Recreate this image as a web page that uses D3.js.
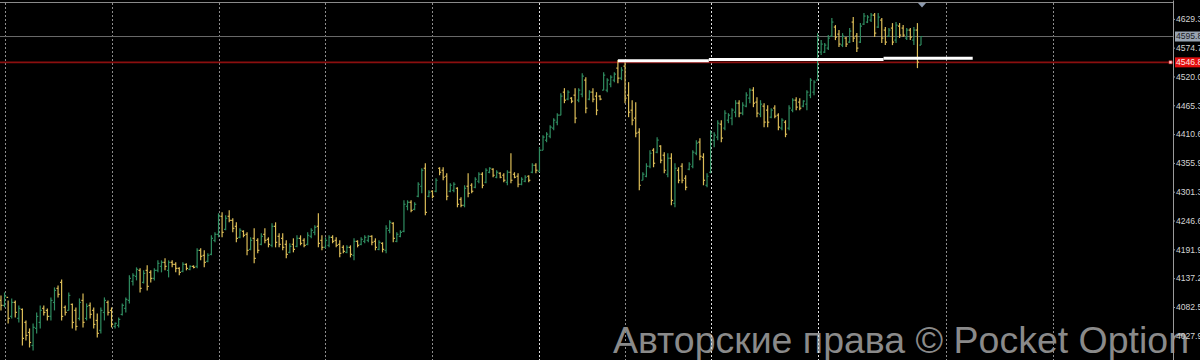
<!DOCTYPE html>
<html lang="ru">
<head>
<meta charset="utf-8">
<title>Price chart</title>
<script src="https://cdn.jsdelivr.net/npm/d3@7/dist/d3.min.js"></script>
<style>
  * { margin: 0; padding: 0; box-sizing: border-box; }
  body { background: #000; overflow: hidden; }
  svg { display: block; }
</style>
</head>
<body>
<svg id="chart"></svg>
<script>
const barOpen = [
  4095, 4085.5, 4100.7, 4064.6, 4091.2, 4060.8, 4077.9, 4053.2, 4034.2, 4009.5,
  4041.8, 4053.2, 4079.8, 4076, 4064.6, 4091.2, 4117.8, 4129.2, 4081.7, 4076,
  4087.4, 4076, 4060.8, 4095, 4060.8, 4085.5, 4076, 4057, 4038, 4072.2,
  4091.2, 4076, 4045.6, 4047.5, 4068.4, 4079.8, 4095, 4131.1, 4140.6, 4152,
  4129.2, 4152, 4148.2, 4136.8, 4152, 4159.6, 4167.2, 4152, 4167.2, 4163.4,
  4155.8, 4150.1, 4163.4, 4153.9, 4159.6, 4159.6, 4190, 4180.5, 4169.1, 4182.4,
  4209, 4220.4, 4254.6, 4229.9, 4254.6, 4247, 4235.6, 4214.7, 4226.1, 4220.4,
  4191.9, 4212.8, 4209, 4201.4, 4220.4, 4210.9, 4199.5, 4235.6, 4216.6, 4212.8,
  4201.4, 4186.2, 4201.4, 4197.6, 4212.8, 4209, 4201.4, 4216.6, 4224.2, 4235.6,
  4209, 4195.7, 4199.5, 4214.7, 4209, 4201.4, 4195.7, 4186.2, 4195.7, 4180.5,
  4207.1, 4201.4, 4207.1, 4209, 4216.6, 4207.1, 4191.9, 4203.3, 4190, 4228,
  4241.3, 4207.1, 4216.6, 4226.1, 4273.6, 4281.2, 4267.9, 4292.6, 4311.6, 4345.8,
  4292.6, 4302.1, 4302.1, 4345.8, 4342, 4330.6, 4302.1, 4304, 4307.8, 4286.9,
  4275.5, 4311.6, 4313.5, 4309.7, 4321.1, 4334.4, 4319.2, 4338.2, 4343.9, 4328.7,
  4336.3, 4332.5, 4319.2, 4338.2, 4334.4, 4330.6, 4315.4, 4321.1, 4330.6, 4338.2,
  4351.5, 4340.1, 4380, 4399, 4406.6, 4421.8, 4433.2, 4446.5, 4490.2, 4476.9,
  4478.8, 4484.5, 4475, 4486.4, 4513, 4476.9, 4490.2, 4482.6, 4482.6, 4494,
  4494, 4505.4, 4513, 4535.8, 4516.8, 4539.6, 4484.5, 4456, 4440.8, 4414.2,
  4323, 4330.6, 4349.6, 4380, 4376.2, 4387.6, 4370.5, 4334.4, 4364.8, 4279.3,
  4342, 4349.6, 4326.8, 4343.9, 4349.6, 4374.3, 4395.2, 4366.7, 4313.5, 4338.2,
  4399, 4404.7, 4429.4, 4421.8, 4437, 4440.8, 4452.2, 4469.3, 4450.3, 4463.6,
  4478.8, 4494, 4471.2, 4448.4, 4463.6, 4456, 4442.7, 4459.8, 4446.5, 4421.8,
  4433.2, 4421.8, 4456, 4475, 4471.2, 4463.6, 4467.4, 4484.5, 4490.2, 4513,
  4566.2, 4566.2, 4573.8, 4596.6, 4613.7, 4600.4, 4579.5, 4592.8, 4585.2, 4623.2,
  4596.6, 4585.2, 4619.4, 4623.2, 4627, 4636.5, 4613.7, 4627, 4608, 4596.6,
  4611.8, 4589, 4615.6, 4611.8, 4592.8, 4608, 4589, 4608, 4579.5
]
const barHigh = [
  4104.5, 4110.2, 4095, 4098.8, 4095, 4085.5, 4079.8, 4057, 4041.8, 4051.3,
  4072.2, 4085.5, 4085.5, 4079.8, 4100.7, 4119.7, 4123.5, 4134.9, 4085.5, 4110.2,
  4089.3, 4081.7, 4098.8, 4108.3, 4089.3, 4091.2, 4081.7, 4070.3, 4081.7, 4100.7,
  4095, 4081.7, 4053.2, 4062.7, 4089.3, 4100.7, 4142.5, 4146.3, 4157.7, 4155.8,
  4152, 4161.5, 4152, 4155.8, 4171, 4171, 4174.8, 4171, 4171, 4167.2,
  4157.7, 4167.2, 4165.3, 4161.5, 4161.5, 4193.8, 4193.8, 4190, 4184.3, 4218.5,
  4224.2, 4260.3, 4262.2, 4256.5, 4266, 4250.8, 4243.2, 4231.8, 4228, 4224.2,
  4214.7, 4231.8, 4212.8, 4222.3, 4231.8, 4214.7, 4241.3, 4243.2, 4222.3, 4222.3,
  4209, 4203.3, 4212.8, 4218.5, 4218.5, 4212.8, 4224.2, 4231.8, 4237.5, 4260.3,
  4218.5, 4214.7, 4218.5, 4218.5, 4214.7, 4209, 4199.5, 4199.5, 4199.5, 4212.8,
  4209, 4214.7, 4218.5, 4218.5, 4218.5, 4212.8, 4209, 4205.2, 4237.5, 4247,
  4243.2, 4224.2, 4228, 4285, 4285, 4285, 4281.2, 4319.2, 4345.8, 4355.3,
  4304, 4304, 4326.8, 4347.7, 4347.7, 4336.3, 4317.3, 4319.2, 4309.7, 4290.7,
  4313.5, 4336.3, 4317.3, 4328.7, 4338.2, 4338.2, 4345.8, 4347.7, 4345.8, 4342,
  4338.2, 4336.3, 4342, 4374.3, 4338.2, 4336.3, 4328.7, 4332.5, 4332.5, 4355.3,
  4355.3, 4385.7, 4408.5, 4414.2, 4427.5, 4440.8, 4450.3, 4488.3, 4497.8, 4494,
  4480.7, 4497.8, 4497.8, 4526.3, 4518.7, 4494, 4497.8, 4490.2, 4484.5, 4528.2,
  4516.8, 4522.5, 4528.2, 4551, 4537.7, 4547.2, 4509.2, 4475, 4471.2, 4421.8,
  4338.2, 4355.3, 4380, 4383.8, 4404.7, 4389.5, 4376.2, 4374.3, 4374.3, 4355.3,
  4347.7, 4355.3, 4332.5, 4357.2, 4380, 4399, 4402.8, 4374.3, 4336.3, 4418,
  4414.2, 4437, 4437, 4456, 4450.3, 4459.8, 4475, 4475, 4471.2, 4490.2,
  4497.8, 4499.7, 4480.7, 4475, 4469.3, 4465.5, 4459.8, 4465.5, 4450.3, 4440.8,
  4437, 4465.5, 4478.8, 4480.7, 4478.8, 4475, 4494, 4516.8, 4513, 4602.3,
  4589, 4583.3, 4598.5, 4630.8, 4617.5, 4608, 4602.3, 4594.7, 4611.8, 4632.7,
  4602.3, 4621.3, 4640.3, 4636.5, 4640.3, 4640.3, 4640.3, 4630.8, 4613.7, 4611.8,
  4621.3, 4623.2, 4621.3, 4617.5, 4611.8, 4611.8, 4613.7, 4621.3, 4596
]
const barLow = [
  4076, 4081.7, 4051.3, 4060.8, 4062.7, 4053.2, 4009.5, 4019, 4005.7, 4000,
  4032.3, 4041.8, 4066.5, 4057, 4057, 4076, 4100.7, 4057, 4066.5, 4076,
  4041.8, 4038, 4057, 4043.7, 4057, 4060.8, 4041.8, 4024.7, 4032.3, 4057,
  4066.5, 4043.7, 4041.8, 4043.7, 4066.5, 4072.2, 4089.3, 4123.5, 4133, 4110.2,
  4127.3, 4114, 4129.2, 4133, 4148.2, 4148.2, 4152, 4138.7, 4157.7, 4148.2,
  4142.5, 4148.2, 4152, 4152, 4155.8, 4155.8, 4171, 4157.7, 4167.2, 4180.5,
  4205.2, 4214.7, 4214.7, 4228, 4243.2, 4224.2, 4205.2, 4212.8, 4214.7, 4180.5,
  4190, 4165.3, 4184.3, 4199.5, 4203.3, 4195.7, 4195.7, 4195.7, 4195.7, 4190,
  4174.8, 4184.3, 4186.2, 4195.7, 4199.5, 4195.7, 4199.5, 4212.8, 4218.5, 4195.7,
  4190, 4193.8, 4195.7, 4203.3, 4195.7, 4176.7, 4184.3, 4184.3, 4176.7, 4171,
  4195.7, 4199.5, 4203.3, 4205.2, 4199.5, 4190, 4190, 4186.2, 4184.3, 4222.3,
  4205.2, 4205.2, 4214.7, 4224.2, 4266, 4262.2, 4266, 4290.7, 4298.3, 4256.5,
  4290.7, 4288.8, 4300.2, 4332.5, 4323, 4285, 4300.2, 4300.2, 4271.7, 4271.7,
  4271.7, 4290.7, 4298.3, 4307.8, 4317.3, 4307.8, 4317.3, 4336.3, 4328.7, 4326.8,
  4326.8, 4319.2, 4313.5, 4317.3, 4326.8, 4309.7, 4313.5, 4319.2, 4319.2, 4336.3,
  4336.3, 4338.2, 4380, 4395.2, 4402.8, 4418, 4427.5, 4446.5, 4469.3, 4475,
  4469.3, 4431.3, 4471.2, 4480.7, 4450.3, 4475, 4471.2, 4446.5, 4475, 4494,
  4490.2, 4499.7, 4509.2, 4507.3, 4513, 4469.3, 4442.7, 4427.5, 4404.7, 4304,
  4323, 4328.7, 4345.8, 4347.7, 4374.3, 4355.3, 4336.3, 4328.7, 4275.5, 4271.7,
  4317.3, 4317.3, 4304, 4342, 4345.8, 4370.5, 4361, 4313.5, 4309.7, 4336.3,
  4385.7, 4399, 4395.2, 4418, 4431.3, 4427.5, 4442.7, 4442.7, 4446.5, 4461.7,
  4469.3, 4461.7, 4442.7, 4442.7, 4423.7, 4423.7, 4440.8, 4440.8, 4418, 4418,
  4404.7, 4418, 4452.2, 4456, 4456, 4461.7, 4456, 4478.8, 4484.5, 4513,
  4560.5, 4564.3, 4570, 4594.7, 4589, 4575.7, 4575.7, 4575.7, 4583.3, 4585.2,
  4566.2, 4583.3, 4617.5, 4621.3, 4623.2, 4594.7, 4611.8, 4583.3, 4579.5, 4594.7,
  4579.5, 4583.3, 4592.8, 4594.7, 4589, 4589, 4579.5, 4535.8, 4579.5
]
const barClose = [
  4085.5, 4102.6, 4060.8, 4091.2, 4072.2, 4079.8, 4022.8, 4028.5, 4015.2, 4043.7,
  4064.6, 4076, 4072.2, 4064.6, 4095, 4114, 4106.4, 4064.6, 4072.2, 4104.5,
  4053.2, 4045.6, 4091.2, 4053.2, 4083.6, 4068.4, 4049.4, 4032.3, 4076, 4095,
  4072.2, 4049.4, 4051.3, 4058.9, 4085.5, 4096.9, 4136.8, 4142.5, 4153.9, 4117.8,
  4146.3, 4121.6, 4136.8, 4152, 4165.3, 4167.2, 4159.6, 4167.2, 4163.4, 4155.8,
  4148.2, 4163.4, 4155.8, 4159.6, 4157.7, 4190, 4178.6, 4167.2, 4180.5, 4212.8,
  4220.4, 4254.6, 4224.2, 4250.8, 4247, 4231.8, 4212.8, 4228, 4218.5, 4190,
  4209, 4174.8, 4190, 4216.6, 4209, 4201.4, 4235.6, 4205.2, 4201.4, 4195.7,
  4182.4, 4197.6, 4191.9, 4212.8, 4203.3, 4199.5, 4218.5, 4228, 4233.7, 4203.3,
  4195.7, 4209, 4214.7, 4207.1, 4199.5, 4184.3, 4188.1, 4195.7, 4182.4, 4207.1,
  4199.5, 4210.9, 4214.7, 4216.6, 4205.2, 4195.7, 4205.2, 4191.9, 4231.8, 4243.2,
  4212.8, 4220.4, 4224.2, 4277.4, 4281.2, 4266, 4277.4, 4315.4, 4342, 4262.2,
  4300.2, 4292.6, 4323, 4338.2, 4328.7, 4292.6, 4313.5, 4315.4, 4277.4, 4275.5,
  4307.8, 4298.3, 4302.1, 4324.9, 4334.4, 4313.5, 4342, 4345.8, 4332.5, 4338.2,
  4328.7, 4323, 4338.2, 4323, 4328.7, 4315.4, 4324.9, 4328.7, 4323, 4351.5,
  4342, 4380, 4404.7, 4410.4, 4423.7, 4437, 4446.5, 4482.6, 4475, 4490.2,
  4473.1, 4440.8, 4494, 4520.6, 4459.8, 4490.2, 4476.9, 4456, 4476.9, 4522.5,
  4513, 4518.7, 4524.4, 4516.8, 4532, 4478.8, 4452.2, 4437, 4412.3, 4313.5,
  4334.4, 4349.6, 4374.3, 4355.3, 4399, 4361, 4342, 4364.8, 4285, 4345.8,
  4323, 4323, 4309.7, 4353.4, 4376.2, 4393.3, 4368.6, 4323, 4330.6, 4412.3,
  4408.5, 4431.3, 4402.8, 4450.3, 4446.5, 4456, 4469.3, 4450.3, 4465.5, 4484.5,
  4494, 4469.3, 4450.3, 4467.4, 4433.2, 4433.2, 4456, 4444.6, 4423.7, 4437,
  4410.4, 4459.8, 4475, 4461.7, 4459.8, 4473.1, 4490.2, 4513, 4509.2, 4592.8,
  4581.4, 4579.5, 4592.8, 4623.2, 4594.7, 4581.4, 4596.6, 4581.4, 4606.1, 4592.8,
  4573.8, 4615.6, 4634.6, 4632.7, 4636.5, 4602.3, 4632.7, 4592.8, 4585.2, 4608,
  4585.2, 4617.5, 4598.5, 4598.5, 4608, 4594.7, 4608, 4547.2, 4595.8
]

// right scale labels
const priceTicks = [4629.3, 4574.7, 4520.0, 4465.3, 4410.6, 4355.9, 4301.3, 4246.6, 4191.9, 4137.2, 4082.5, 4027.9]
// period separators, as bar numbers
const gridBars = [1, 31, 61, 91, 121, 151, 175, 199, 229, 265, 295]
// stepped white level: from bar, to bar, price
const levelFrom = [173, 198.5, 247.5]
const levelTo = [198.5, 247.5, 272.5]
const levelPrice = [4550.0, 4552.3, 4554.6]
const bidPrice = 4595.8
const alertPrice = 4546.8
const watermark = 'Авторские права © Pocket Option'

const W = 1200, H = 360
const AXIS_X = 1173
const UP = '#2f8c60', DOWN = '#dcbd58'
const FONT = '"Liberation Sans", Arial, sans-serif'
const brightGrid = new Set([151, 199, 229])

const svg = d3.select('#chart').attr('width', W).attr('height', H)
svg.append('rect').attr('width', W).attr('height', H).attr('fill', '#000')

const n = d3.min([barOpen.length, barHigh.length, barLow.length, barClose.length])
const bars = d3.range(n).map(i => ({ i, o: barOpen[i], h: barHigh[i], l: barLow[i], c: barClose[i] }))

const x = d3.scaleLinear().domain([0, 258]).range([1, 921])
const y = d3.scaleLinear().domain([3981.9, 4665.1]).range([H, 0])

// watermark sits under everything
svg.append('text')
  .attr('x', 613).attr('y', 353)
  .attr('font-family', FONT)
  .attr('font-size', 37.5)
  .attr('fill', '#8a8a8a')
  .attr('textLength', 576)
  .attr('lengthAdjust', 'spacingAndGlyphs')
  .text(watermark)

// vertical period separators
svg.append('g')
  .selectAll('line')
  .data(gridBars)
  .join('line')
  .attr('x1', d => Math.round(x(d)) + 0.5).attr('x2', d => Math.round(x(d)) + 0.5)
  .attr('y1', 3).attr('y2', H)
  .attr('stroke', d => brightGrid.has(d) ? '#e0e0e0' : '#8c8c8c')
  .attr('stroke-width', 1)
  .attr('stroke-dasharray', '2,2')

// top frame line, bid line, alert line
svg.append('line')
  .attr('x1', 0).attr('x2', AXIS_X).attr('y1', 2.5).attr('y2', 2.5)
  .attr('stroke', '#8a8a8a')
svg.append('line')
  .attr('x1', 0).attr('x2', AXIS_X).attr('y1', y(bidPrice)).attr('y2', y(bidPrice))
  .attr('stroke', '#6a6a6a')
svg.append('line')
  .attr('x1', 0).attr('x2', AXIS_X).attr('y1', y(alertPrice)).attr('y2', y(alertPrice))
  .attr('stroke', '#8b0f0f').attr('stroke-width', 1.6)

// bars
const bar = svg.append('g')
  .selectAll('g')
  .data(bars)
  .join('g')
  .attr('stroke', d => d.c >= d.o ? UP : DOWN)
  .attr('stroke-width', 1.2)

bar.append('line')
  .attr('x1', d => x(d.i)).attr('x2', d => x(d.i))
  .attr('y1', d => y(d.h)).attr('y2', d => y(d.l))
bar.append('line')
  .attr('x1', d => x(d.i) - 1.6).attr('x2', d => x(d.i))
  .attr('y1', d => y(d.o)).attr('y2', d => y(d.o))
bar.append('line')
  .attr('x1', d => x(d.i)).attr('x2', d => x(d.i) + 1.6)
  .attr('y1', d => y(d.c)).attr('y2', d => y(d.c))

// stepped white level line
const levels = levelFrom.map((f, k) => ({ f, t: levelTo[k], p: levelPrice[k] }))
svg.append('g')
  .selectAll('line')
  .data(levels)
  .join('line')
  .attr('x1', d => x(d.f)).attr('x2', d => x(d.t))
  .attr('y1', d => y(d.p)).attr('y2', d => y(d.p))
  .attr('stroke', '#ffffff')
  .attr('stroke-width', 3)

// price axis on the right
const axis = svg.append('g')
  .attr('transform', 'translate(' + AXIS_X + ',0)')
  .call(d3.axisRight(y).tickValues(priceTicks).tickFormat(d3.format('.1f')).tickSize(2).tickSizeOuter(0).tickPadding(1))
axis.select('.domain').attr('stroke', '#9a9a9a')
axis.selectAll('.tick line').attr('stroke', '#9a9a9a')
axis.selectAll('.tick text')
  .attr('fill', '#d4d4d4')
  .attr('font-family', FONT)
  .attr('font-size', 8.6)

function priceBox(price, bg, fg) {
  const yy = y(price)
  svg.append('rect')
    .attr('x', AXIS_X + 2).attr('y', yy - 5).attr('width', W - AXIS_X).attr('height', 10)
    .attr('fill', bg)
  svg.append('text')
    .attr('x', AXIS_X + 3).attr('y', yy).attr('dy', '0.34em')
    .attr('font-family', FONT)
    .attr('font-size', 8.6)
    .attr('fill', fg)
    .text(d3.format('.1f')(price))
}
priceBox(bidPrice, '#98a4b2', '#1c1c1c')
priceBox(alertPrice, '#e30f0f', '#ffe6e6')

// alert handle on the axis
svg.append('rect')
  .attr('x', AXIS_X - 4).attr('y', y(alertPrice) - 1.5).attr('width', 3).attr('height', 3)
  .attr('fill', '#ffd8d8').attr('stroke', '#e03030').attr('stroke-width', 0.6)

// chart shift marker above the last bar
const sx = x(n - 1) + 1
svg.append('path')
  .attr('d', 'M' + (sx - 4) + ',3L' + (sx + 4) + ',3L' + sx + ',7.5Z')
  .attr('fill', '#8d9bb0')
</script>
</body>
</html>
